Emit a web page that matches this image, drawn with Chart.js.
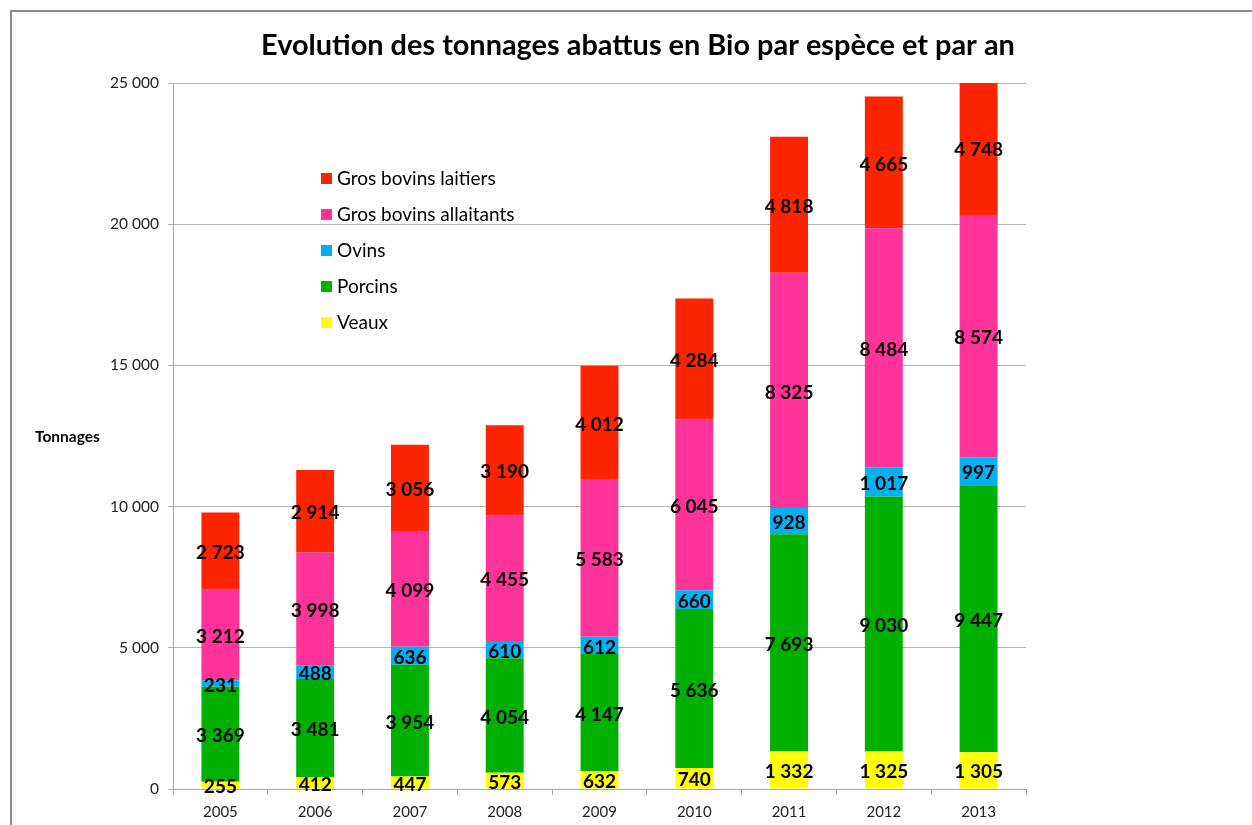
<!DOCTYPE html>
<html>
<head>
<meta charset="utf-8">
<script src="https://cdn.jsdelivr.net/npm/chart.js@4/dist/chart.umd.min.js"></script>
<style>
  html, body { margin: 0; padding: 0; background: #fff; }
  #wrap { width: 1252px; height: 825px; position: relative; }
</style>
</head>
<body>
<div id="wrap"><canvas id="chart" width="1252" height="825"></canvas></div>
<script>
// données
const years = ['2005', '2006', '2007', '2008', '2009', '2010', '2011', '2012', '2013'];
const veaux = [255, 412, 447, 573, 632, 740, 1332, 1325, 1305];
const porcins = [3369, 3481, 3954, 4054, 4147, 5636, 7693, 9030, 9447];
const ovins = [231, 488, 636, 610, 612, 660, 928, 1017, 997];
const allaitants = [3212, 3998, 4099, 4455, 5583, 6045, 8325, 8484, 8574];
const laitiers = [2723, 2914, 3056, 3190, 4012, 4284, 4818, 4665, 4748];
const yTicks = [0, 5000, 10000, 15000, 20000, 25000];

const FONT = 'Lato, "Open Sans", sans-serif';
const fmt = v => String(v).replace(/\B(?=(\d{3})+(?!\d))/g, ' ');

// cadre, titre, légende et libellés dessinés à la main
const decor = {
    id: 'decor',
    beforeDraw(chart) {
        const ctx = chart.ctx;
        ctx.save();
        ctx.fillStyle = '#fff';
        ctx.fillRect(0, 0, chart.width, chart.height);
        ctx.strokeStyle = '#8c8c8c';
        ctx.lineWidth = 2;
        ctx.beginPath();
        ctx.moveTo(11, chart.height);
        ctx.lineTo(11, 11);
        ctx.lineTo(chart.width, 11);
        ctx.stroke();
        ctx.restore();
    },
    afterDraw(chart) {
        const ctx = chart.ctx;
        ctx.save();
        // titre ajusté à la largeur du modèle
        const title = 'Evolution des tonnages abattus en Bio par espèce et par an';
        ctx.font = 'bold 27px ' + FONT;
        let w = ctx.measureText(title).width;
        const size = 27 * 753 / w;
        ctx.font = 'bold ' + size.toFixed(1) + 'px ' + FONT;
        ctx.fillStyle = '#000';
        ctx.textAlign = 'center';
        ctx.textBaseline = 'middle';
        ctx.fillText(title, 638, 46);

        // titre de l'axe
        ctx.font = 'bold 15.5px ' + FONT;
        ctx.textAlign = 'left';
        ctx.fillText('Tonnages', 35, 437);

        // légende
        ctx.font = '19px ' + FONT;
        const ds = chart.data.datasets;
        for (let k = 0; k < ds.length; k++) {
            const d = ds[ds.length - 1 - k];
            const y = 179 + k * 36;
            ctx.fillStyle = d.backgroundColor;
            ctx.fillRect(321, y - 6, 11, 11);
            ctx.fillStyle = '#000';
            ctx.fillText(d.label, 337, y);
        }
        ctx.restore();
    },
    afterDatasetsDraw(chart) {
        const ctx = chart.ctx;
        ctx.save();
        ctx.font = 'bold 19px ' + FONT;
        ctx.fillStyle = '#000';
        ctx.textAlign = 'center';
        ctx.textBaseline = 'middle';
        chart.data.datasets.forEach((d, i) => {
            chart.getDatasetMeta(i).data.forEach((bar, j) => {
                const yc = (bar.y + bar.base) / 2;
                ctx.fillText(fmt(d.data[j]), bar.x, yc + 2);
            });
        });
        ctx.restore();
    }
};

new Chart(document.getElementById('chart'), {
    type: 'bar',
    data: {
        labels: years,
        datasets: [
            { label: 'Veaux', data: veaux, backgroundColor: '#ffff00' },
            { label: 'Porcins', data: porcins, backgroundColor: '#00b000' },
            { label: 'Ovins', data: ovins, backgroundColor: '#00b0f0' },
            { label: 'Gros bovins allaitants', data: allaitants, backgroundColor: '#ff3399' },
            { label: 'Gros bovins laitiers', data: laitiers, backgroundColor: '#ff2400' }
        ]
    },
    options: {
        responsive: false,
        animation: false,
        layout: { padding: { left: 0, top: 83, right: 226, bottom: 0 } },
        datasets: { bar: { categoryPercentage: 0.8, barPercentage: 0.5 } },
        plugins: { legend: { display: false }, tooltip: { enabled: false } },
        scales: {
            x: {
                stacked: true,
                afterFit(scale) { scale.height = 36; },
                grid: { offset: true, drawOnChartArea: false, drawTicks: true, tickLength: 6, color: '#a6a6a6' },
                border: { color: '#a6a6a6' },
                ticks: { color: '#222', font: { family: FONT, size: 15 }, padding: 8 }
            },
            y: {
                stacked: true,
                min: 0,
                max: 25000,
                afterFit(scale) { scale.width = 173; },
                afterBuildTicks(scale) { scale.ticks = yTicks.map(v => ({ value: v })); },
                grid: { color: '#b3b3b3', tickLength: 5 },
                border: { color: '#a6a6a6' },
                ticks: {
                    color: '#222',
                    font: { family: FONT, size: 15.5 },
                    padding: 9,
                    callback: v => fmt(v)
                }
            }
        }
    },
    plugins: [decor]
});
</script>
</body>
</html>
